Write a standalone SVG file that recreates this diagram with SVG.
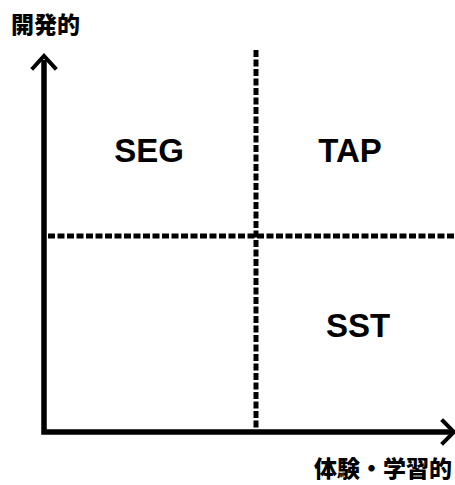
<svg xmlns="http://www.w3.org/2000/svg" width="455" height="485" viewBox="0 0 455 485">
<style>
.axis{stroke:#000;stroke-width:5.5;fill:none}
.head{stroke:#000;stroke-width:4;fill:none;stroke-linecap:square}
.dash{stroke:#000;stroke-width:5;stroke-dasharray:7 2.5;fill:none}
.lbl{font-family:"Liberation Sans",Arial,sans-serif;font-weight:bold;font-size:33px;fill:#000}
.jp{font-family:"Noto Sans CJK JP","Noto Sans CJK SC",sans-serif;font-weight:900;font-size:23px;fill:#000}
</style>
<rect width="455" height="485" fill="#fff"/>
<g id="connectors">
<path class="dash" d="M256 50 V432"/>
<path class="dash" d="M48 236 H455"/>
<path class="axis" d="M44 60 V432 H453"/>
<path class="head" d="M33 68 L44 56 L55 68"/>
<path class="head" d="M443 421 L454 432 L443 443"/>
</g>
<g id="y-label"><text class="jp" x="11" y="33">開発的</text></g>
<g id="x-label"><text class="jp" x="314" y="477">体験・学習的</text></g>
<g id="SEG"><text class="lbl" x="149" y="162" text-anchor="middle">SEG</text></g>
<g id="TAP"><text class="lbl" x="350" y="162" text-anchor="middle">TAP</text></g>
<g id="SST"><text class="lbl" x="358" y="337" text-anchor="middle">SST</text></g>
</svg>
